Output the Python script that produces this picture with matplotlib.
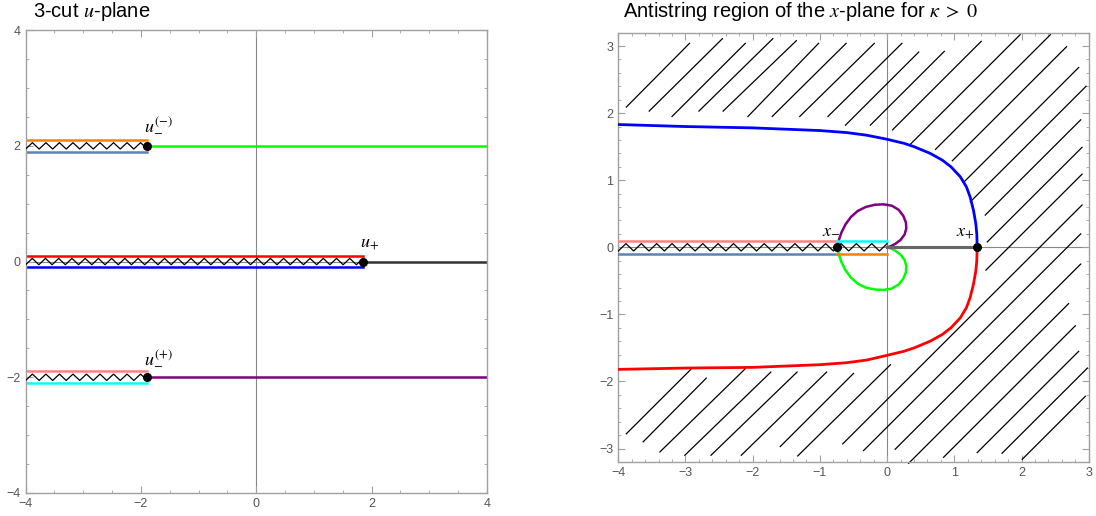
import numpy as np
import matplotlib.pyplot as plt
from matplotlib.ticker import MultipleLocator

plt.rcParams['font.family'] = ['Liberation Sans', 'DejaVu Sans']
plt.rcParams['mathtext.fontset'] = 'stix'

# ---- left panel: 3-cut u-plane ----
u_minus_x = -1.89
u_plus_x = 1.85
cut_levels = [2.0, 0.0, -2.0]
cut_ends = [u_minus_x, u_plus_x, u_minus_x]
upper_colors = ['#FF8000', '#FF0000', '#FF8080']
lower_colors = ['#5E81B5', '#0000FF', '#00FFFF']
ray_colors = ['#00FF00', '#333333', '#800080']
u_labels = [r'$u_{-}^{(-)}$', r'$u_{+}$', r'$u_{-}^{(+)}$']
u_label_x = [-1.95, 1.80, -1.95]
u_label_y = [2.20, 0.16, -1.82]

# ---- right panel: antistring region of the x-plane ----
x_minus = -0.74
x_plus = 1.34
blue_x = [-4.0, -3.0, -2.0, -1.5, -1.0, -0.6, -0.3, 0.0, 0.25, 0.40, 0.64, 0.82,
          0.95, 1.09, 1.18, 1.235, 1.285, 1.32, 1.334, 1.34]
blue_y = [1.83, 1.80, 1.78, 1.76, 1.74, 1.71, 1.67, 1.61, 1.55, 1.50, 1.40, 1.30,
          1.20, 1.05, 0.90, 0.75, 0.55, 0.35, 0.20, 0.0]
red_x = [-4.0, -3.0, -2.0, -1.5, -1.0, -0.6, -0.3, 0.0, 0.25, 0.40, 0.64, 0.82,
         0.95, 1.09, 1.18, 1.235, 1.285, 1.32, 1.334, 1.34]
red_y = [-1.82, -1.80, -1.79, -1.77, -1.75, -1.72, -1.68, -1.61, -1.55, -1.50, -1.40, -1.30,
         -1.20, -1.05, -0.90, -0.75, -0.55, -0.35, -0.20, 0.0]
loop_x = [-0.74, -0.72, -0.68, -0.62, -0.54, -0.44, -0.32, -0.18, -0.05, 0.07, 0.17,
          0.24, 0.28, 0.285, 0.26, 0.20, 0.12, 0.05, 0.0]
purple_y = [0.0, 0.10, 0.22, 0.34, 0.45, 0.54, 0.60, 0.635, 0.64, 0.62, 0.56,
            0.47, 0.37, 0.28, 0.19, 0.11, 0.05, 0.015, 0.0]
green_y = [0.0, -0.10, -0.22, -0.34, -0.45, -0.54, -0.60, -0.63, -0.635, -0.615, -0.555,
           -0.47, -0.37, -0.28, -0.19, -0.11, -0.05, -0.015, 0.0]

# hatch segments (start -> end)
hatch_x0 = [-3.88, -3.54, -3.20, -2.80, -2.44, -2.07, -1.71, -1.30, -0.88, -0.62, -0.25,
            0.08, 0.33, 0.72, 0.97, 1.14, 1.24, 1.46, 1.49, 1.47,
            -0.66, -0.35, 0.12, 0.32, 0.84, 1.34, 1.71, 2.01,
            -3.88, -3.63, -3.38, -3.01, -2.62, -2.17, -1.59, -1.33]
hatch_y0 = [2.09, 2.03, 1.95, 2.03, 2.03, 1.95, 1.95, 1.95, 1.95, 1.82, 1.82,
            1.75, 1.52, 1.46, 1.29, 0.97, 0.68, 0.48, 0.08, -0.34,
            -2.93, -3.03, -3.01, -3.22, -3.13, -3.06, -3.07, -3.16,
            -2.78, -2.90, -3.05, -3.10, -3.10, -3.10, -2.97, -3.11]
hatch_x1 = [-2.94, -2.45, -2.11, -1.70, -1.35, -1.02, -0.61, -0.19, 0.22, 0.47, 0.85,
            1.40, 1.98, 2.43, 2.67, 2.85, 2.96, 2.88, 2.90, 2.90,
            2.90, 2.88, 2.88, 2.70, 2.80, 2.85, 2.98, 2.95,
            -2.92, -2.69, -2.11, -1.73, -1.34, -0.90, -0.50, 0.05]
hatch_y1 = [3.04, 3.11, 3.04, 3.11, 3.08, 3.04, 3.04, 3.04, 3.04, 2.91, 2.92,
            3.07, 3.17, 3.17, 2.99, 2.68, 2.40, 1.90, 1.49, 1.09,
            0.63, 0.20, -0.25, -0.84, -1.17, -1.55, -1.80, -2.22,
            -1.82, -1.95, -1.81, -1.86, -1.86, -1.86, -1.88, -1.75]

cut_gap = 0.1
zig_amp = 0.055
zig_period = 0.23

frame_gray = '#a0a0a0'
label_gray = '#555555'


def zigzag(ax, x0, x1, y):
    n = int(round((x1 - x0) / (zig_period / 2)))
    xs = np.linspace(x0, x1, n + 1)
    ys = y + zig_amp * np.where(np.arange(n + 1) % 2 == 0, -1, 1)
    ax.plot(xs, ys, color='black', lw=0.9, zorder=3)


def style_axes(ax, major, minor):
    ax.xaxis.set_major_locator(MultipleLocator(major))
    ax.yaxis.set_major_locator(MultipleLocator(major))
    ax.xaxis.set_minor_locator(MultipleLocator(minor))
    ax.yaxis.set_minor_locator(MultipleLocator(minor))
    ax.tick_params(which='both', direction='in', top=True, right=True,
                   color=frame_gray, labelcolor=label_gray, labelsize=9)
    ax.tick_params(which='major', length=5, width=0.8)
    ax.tick_params(which='minor', length=2.5, width=0.6)
    for s in ax.spines.values():
        s.set_color(frame_gray)
        s.set_linewidth(1.0)
    ax.axhline(0, color='#888888', lw=0.8, zorder=1)
    ax.axvline(0, color='#888888', lw=0.8, zorder=1)


fig = plt.figure(figsize=(10.96, 5.16), dpi=100)

# left panel
ax1 = fig.add_axes([0.0234, 0.0446, 0.4209, 0.897])
ax1.set_xlim(-4, 4)
ax1.set_ylim(-4, 4)
style_axes(ax1, 2, 0.5)
for lev, end, cu, cl, cr, lab, lx, ly in zip(cut_levels, cut_ends, upper_colors,
                                            lower_colors, ray_colors, u_labels,
                                            u_label_x, u_label_y):
    ax1.plot([-4, end], [lev + cut_gap, lev + cut_gap], color=cu, lw=1.8, zorder=2)
    ax1.plot([-4, end], [lev - cut_gap, lev - cut_gap], color=cl, lw=1.8, zorder=2)
    ax1.plot([end, 4], [lev, lev], color=cr, lw=1.8, zorder=2)
    zigzag(ax1, -4, end, lev)
    ax1.plot([end], [lev], 'o', color='black', ms=5.5, zorder=4)
    ax1.text(lx, ly, lab, fontsize=13, ha='left', va='bottom')

# right panel
ax2 = fig.add_axes([0.5641, 0.1047, 0.4293, 0.8308])
ax2.set_xlim(-4, 3)
ax2.set_ylim(-3.2, 3.19)
style_axes(ax2, 1, 0.2)
for xa, ya, xb, yb in zip(hatch_x0, hatch_y0, hatch_x1, hatch_y1):
    ax2.plot([xa, xb], [ya, yb], color='black', lw=0.9, zorder=2, clip_on=False)
ax2.plot(blue_x, blue_y, color='#0000FF', lw=2.0, zorder=3)
ax2.plot(red_x, red_y, color='#FF0000', lw=2.0, zorder=3)
ax2.plot(loop_x, purple_y, color='#800080', lw=1.8, zorder=3)
ax2.plot(loop_x, green_y, color='#00FF00', lw=1.8, zorder=3)
ax2.plot([-4, x_minus], [cut_gap, cut_gap], color='#FF8080', lw=1.8, zorder=3)
ax2.plot([-4, x_minus], [-cut_gap, -cut_gap], color='#5E81B5', lw=1.8, zorder=3)
ax2.plot([x_minus, 0], [cut_gap, cut_gap], color='#00FFFF', lw=1.8, zorder=3)
ax2.plot([x_minus, 0], [-cut_gap, -cut_gap], color='#FF8000', lw=1.8, zorder=3)
ax2.plot([0, x_plus], [0, 0], color='#666666', lw=2.2, zorder=3)
zigzag(ax2, -4, 0, 0)
ax2.plot([x_minus, x_plus], [0, 0], 'o', color='black', ms=5.5, zorder=4)
ax2.text(-0.97, 0.14, r'$x_{-}$', fontsize=13, ha='left', va='bottom')
ax2.text(1.03, 0.10, r'$x_{+}$', fontsize=13, ha='left', va='bottom')

fig.text(0.030, 0.9665, r'3-cut $u$-plane', fontsize=14.5, ha='left', va='baseline')
fig.text(0.568, 0.9665, r'Antistring region of the $x$-plane for $\kappa\;>\;0$',
         fontsize=14.5, ha='left', va='baseline')

fig.savefig('out.png', dpi=100)
